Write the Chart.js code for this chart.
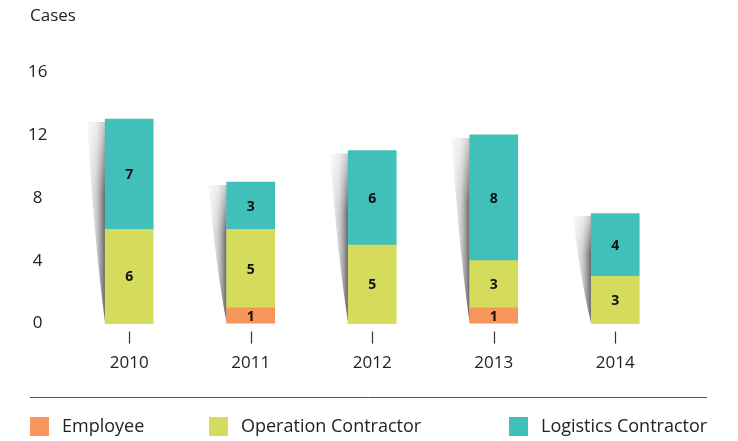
<!DOCTYPE html>
<html><head><meta charset="utf-8">
<script src="https://cdn.jsdelivr.net/npm/chart.js@4.4.0/dist/chart.umd.min.js"></script>
<style>html,body{margin:0;padding:0;background:#fff;} #wrap{width:738px;height:441px;position:relative;}</style>
</head><body><div id="wrap"><canvas id="c" width="738" height="441"></canvas></div>
<script>
const years = ['2010', '2011', '2012', '2013', '2014'];
const employee = [0, 1, 0, 1, 0];
const operationContractor = [6, 5, 5, 3, 3];
const logisticsContractor = [7, 3, 6, 8, 4];
const yTickValues = [0, 4, 8, 12, 16];
const seriesNames = ['Employee', 'Operation Contractor', 'Logistics Contractor'];
const seriesColors = ['#F7955A', '#D5DC5C', '#40C0B9'];
const axisTitle = 'Cases';

const FONT = "'Open Sans', 'Noto Sans', sans-serif";
const TEXT = '#222';

const shadowPlugin = {
  id: 'barShadow',
  beforeDatasetsDraw(chart) {
    const ctx = chart.ctx;
    const yZero = chart.scales.y.getPixelForValue(0);
    const n = chart.data.labels.length;
    for (let i = 0; i < n; i++) {
      let top = Infinity, left = 0;
      chart.data.datasets.forEach((ds, di) => {
        const el = chart.getDatasetMeta(di).data[i];
        if (!el) return;
        const p = el.getProps(['x', 'y', 'width'], true);
        if (p.y < top) top = p.y;
        left = p.x - p.width / 2;
      });
      top += 3;
      const w = 18;
      ctx.save();
      ctx.beginPath();
      ctx.moveTo(left, top);
      ctx.lineTo(left - w, top);
      ctx.quadraticCurveTo(left - w * 0.6, top + (yZero - top) * 0.6, left, yZero);
      ctx.closePath();
      const g = ctx.createLinearGradient(left - w, 0, left, 0);
      g.addColorStop(0, 'rgba(210,210,210,0.35)');
      g.addColorStop(0.5, 'rgba(160,160,160,0.5)');
      g.addColorStop(1, 'rgba(70,70,70,0.85)');
      ctx.fillStyle = g;
      ctx.fill();
      ctx.clip();
      const v = ctx.createLinearGradient(0, top, 0, yZero);
      v.addColorStop(0, 'rgba(255,255,255,0.65)');
      v.addColorStop(0.35, 'rgba(255,255,255,0)');
      ctx.fillStyle = v;
      ctx.fillRect(left - w - 1, top, w + 2, yZero - top);
      ctx.restore();
    }
  }
};

const valueLabelPlugin = {
  id: 'valueLabels',
  afterDatasetsDraw(chart) {
    const ctx = chart.ctx;
    ctx.save();
    ctx.font = "bold 14px " + FONT;
    ctx.fillStyle = '#111';
    ctx.textAlign = 'center';
    ctx.textBaseline = 'middle';
    chart.data.datasets.forEach((ds, di) => {
      chart.getDatasetMeta(di).data.forEach((el, i) => {
        const val = ds.data[i];
        if (!val) return;
        const p = el.getProps(['x', 'y', 'base'], true);
        ctx.fillText(String(val), p.x, (p.y + p.base) / 2 + 1);
      });
    });
    ctx.restore();
  }
};

const decorPlugin = {
  id: 'decor',
  afterDraw(chart) {
    const ctx = chart.ctx;
    const xs = chart.scales.x;
    const bottom = chart.chartArea.bottom;
    ctx.save();
    // tick marks
    ctx.strokeStyle = '#333';
    ctx.lineWidth = 1.2;
    xs.ticks.forEach((t, i) => {
      const x = Math.round(xs.getPixelForTick(i)) + 0.5;
      ctx.beginPath();
      ctx.moveTo(x, bottom + 8);
      ctx.lineTo(x, bottom + 20);
      ctx.stroke();
    });
    // axis title
    ctx.fillStyle = TEXT;
    ctx.font = "17px " + FONT;
    ctx.textAlign = 'left';
    ctx.textBaseline = 'middle';
    ctx.fillText(axisTitle, 30, 16);
    // separator
    ctx.strokeStyle = '#555';
    ctx.lineWidth = 1;
    ctx.beginPath();
    ctx.moveTo(30, 397.5);
    ctx.lineTo(707, 397.5);
    ctx.stroke();
    // legend
    const legendX = [30, 209, 509];
    chart.data.datasets.forEach((ds, di) => {
      const x = legendX[di];
      ctx.fillStyle = ds.backgroundColor;
      ctx.fillRect(x, 417, 19, 19);
      ctx.fillStyle = TEXT;
      ctx.font = "18px " + FONT;
      ctx.fillText(ds.label, x + 32, 427);
    });
    ctx.restore();
  }
};

new Chart(document.getElementById('c'), {
  type: 'bar',
  data: {
    labels: years,
    datasets: [
      { label: seriesNames[0], data: employee, backgroundColor: seriesColors[0] },
      { label: seriesNames[1], data: operationContractor, backgroundColor: seriesColors[1] },
      { label: seriesNames[2], data: logisticsContractor, backgroundColor: seriesColors[2] }
    ]
  },
  options: {
    responsive: false,
    animation: false,
    devicePixelRatio: 1,
    layout: { padding: { left: 7, right: 62, top: 72, bottom: 47 } },
    datasets: { bar: { barThickness: 48, borderWidth: 0 } },
    plugins: { legend: { display: false }, tooltip: { enabled: false }, title: { display: false } },
    scales: {
      x: {
        stacked: true,
        grid: { display: false },
        border: { display: false },
        ticks: { padding: 21, color: TEXT, font: { family: FONT, size: 17 } }
      },
      y: {
        stacked: true,
        min: 0, max: 16,
        afterBuildTicks(scale) { scale.ticks = yTickValues.map(v => ({ value: v })); },
        grid: { display: false, drawTicks: false },
        border: { display: false },
        ticks: { padding: 21, crossAlign: 'center', color: TEXT, font: { family: FONT, size: 17 } }
      }
    }
  },
  plugins: [shadowPlugin, valueLabelPlugin, decorPlugin]
});
</script></body></html>
